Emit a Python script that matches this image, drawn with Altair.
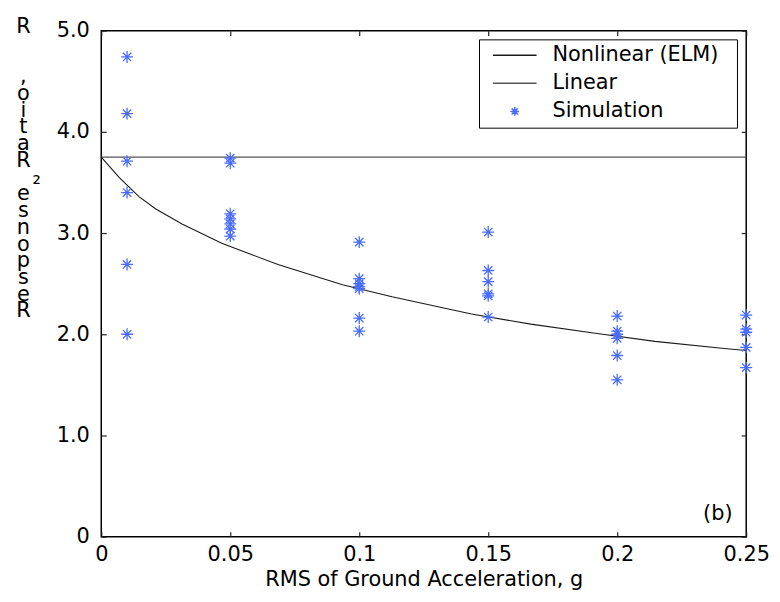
import altair as alt
import pandas as pd

FONT = "DejaVu Sans"
FS = 21

# ---- data ----
series_names = ["Nonlinear (ELM)", "Linear", "Simulation"]

lin_x = [0.0, 0.25]
lin_y = [3.75, 3.75]

elm_x = [0.0, 0.0069, 0.0146, 0.021, 0.0313, 0.0467, 0.0569, 0.0685, 0.0935,
         0.1127, 0.1435, 0.1665, 0.1915, 0.2146, 0.2415, 0.25]
elm_y = [3.75, 3.55, 3.36, 3.24, 3.09, 2.90, 2.80, 2.69, 2.49,
         2.37, 2.20, 2.10, 2.01, 1.93, 1.86, 1.84]

sim_x = [0.01, 0.01, 0.01, 0.01, 0.01, 0.01,
         0.05, 0.05, 0.05, 0.05, 0.05, 0.05, 0.05,
         0.10, 0.10, 0.10, 0.10, 0.10, 0.10, 0.10,
         0.15, 0.15, 0.15, 0.15, 0.15, 0.15,
         0.20, 0.20, 0.20, 0.20, 0.20, 0.20,
         0.25, 0.25, 0.25, 0.25, 0.25]
sim_y = [4.74, 4.18, 3.71, 3.40, 2.69, 2.00,
         3.74, 3.69, 3.19, 3.14, 3.09, 3.04, 2.97,
         2.91, 2.55, 2.50, 2.47, 2.45, 2.16, 2.03,
         3.01, 2.63, 2.52, 2.40, 2.38, 2.17,
         2.18, 2.03, 2.00, 1.96, 1.79, 1.55,
         2.19, 2.05, 2.02, 1.87, 1.67]

x_ticks = [0, 0.05, 0.1, 0.15, 0.2, 0.25]
y_ticks = [0, 1, 2, 3, 4, 5]

panel_label = ["(b)"]
panel_x = [0.239]
panel_y = [0.16]

ZW = "\u200b"   # zero-width char keeps blank lines from being trimmed
NB = "\u00a0"
y_title_lines = ["R", ZW, ZW, ",", "o", "i", "t", "a", "R",
                 ZW + NB * 4 + "\u2082",
                 "e", "s", "n", "o", "p", "s", "e", "R"]

# ---- styling ----
series_colors = ["#1a1a1a", "#555555", "#4a6cff"]
star = "M-0.2,0L0.2,0M0,-0.2L0,0.2M-0.14,-0.14L0.14,0.14M-0.14,0.14L0.14,-0.14"
series_shapes = ["stroke", "stroke", star]

elm_df = pd.DataFrame({"x": elm_x, "y": elm_y, "series": series_names[0]})
lin_df = pd.DataFrame({"x": lin_x, "y": lin_y, "series": series_names[1]})
sim_df = pd.DataFrame({"x": sim_x, "y": sim_y, "series": series_names[2]})
txt_df = pd.DataFrame({"x": panel_x, "y": panel_y, "t": panel_label})

xscale = alt.Scale(domain=[0, 0.25], nice=False, zero=False)
yscale = alt.Scale(domain=[0, 5], nice=False, zero=False)

legend = alt.Legend(
    title=NB, titleOrient="right", titleFontSize=1, titlePadding=16,
    orient="none", legendX=380.7, legendY=8.8,
    padding=3, strokeColor="black", fillColor="white",
    symbolSize=1936, symbolStrokeWidth=1.5, symbolOffset=10,
    labelOffset=15, labelFont=FONT, labelFontSize=FS, labelColor="black",
    clipHeight=26, rowPadding=2.3, labelLimit=400,
)
color = alt.Color("series:N", scale=alt.Scale(domain=series_names, range=series_colors), legend=legend)
shape = alt.Shape("series:N", scale=alt.Scale(domain=series_names, range=series_shapes), legend=legend)

common_axis = dict(offset=-5, tickSize=5, domain=False, grid=False, tickColor="#222",
                   tickWidth=1.2, labelFlush=False, labelOverlap=False)

x_axis = alt.Axis(values=x_ticks, labelExpr="datum.value == 0 ? '0' : format(datum.value, '~g')",
                  title="RMS of Ground Acceleration, g", labelPadding=7,
                  labelFont=FONT, labelFontSize=FS, labelColor="black",
                  titleFont=FONT, titleFontSize=FS, titleFontWeight="normal", titleColor="black",
                  titleBaseline="alphabetic", titleY=54, **common_axis)
y_axis = alt.Axis(values=y_ticks, labelExpr="datum.value == 0 ? '0' : format(datum.value, '.1f')",
                  title=y_title_lines, titleAngle=0, titleAlign="center", titleBaseline="alphabetic",
                  titleX=-84, titleY=2, titleLineHeight=16.86,
                  labelPadding=12,
                  labelFont=FONT, labelFontSize=FS, labelColor="black",
                  titleFont=FONT, titleFontSize=FS, titleFontWeight="normal", titleColor="black",
                  **common_axis)
x_top = alt.Axis(orient="top", values=x_ticks, labels=False, title=None, **common_axis)
y_right = alt.Axis(orient="right", values=y_ticks, labels=False, title=None, **common_axis)

lin_layer = alt.Chart(lin_df).mark_line(strokeWidth=1.3).encode(
    x=alt.X("x:Q", scale=xscale, axis=x_axis),
    y=alt.Y("y:Q", scale=yscale, axis=y_axis),
    color=color,
)
elm_layer = alt.Chart(elm_df).mark_line(strokeWidth=1.1).encode(
    x=alt.X("x:Q", scale=xscale, axis=None),
    y=alt.Y("y:Q", scale=yscale, axis=None),
    color=color,
)
sim_layer = alt.Chart(sim_df).mark_point(filled=False, size=3600, strokeWidth=1.3, opacity=1, clip=False).encode(
    x=alt.X("x:Q", scale=xscale, axis=None),
    y=alt.Y("y:Q", scale=yscale, axis=None),
    color=color,
    shape=shape,
)
frame_layer = alt.Chart(sim_df).mark_point(opacity=0).encode(
    x=alt.X("x:Q", scale=xscale, axis=x_top),
    y=alt.Y("y:Q", scale=yscale, axis=y_right),
)
txt_layer = alt.Chart(txt_df).mark_text(font=FONT, fontSize=FS, align="center",
                                        baseline="alphabetic", color="black").encode(
    x=alt.X("x:Q", scale=xscale, axis=None),
    y=alt.Y("y:Q", scale=yscale, axis=None),
    text="t:N",
)

chart = alt.layer(lin_layer, elm_layer, sim_layer, frame_layer, txt_layer).resolve_axis(
    x="independent", y="independent"
).properties(
    width=650, height=510,
    autosize=alt.AutoSizeParams(type="none"),
    padding={"left": 94, "top": 20.5, "right": 26, "bottom": 60},
    background="white",
).configure_view(stroke="black", strokeWidth=1.5)

chart.save("out.html", embed_options={"renderer": "svg", "actions": False})
